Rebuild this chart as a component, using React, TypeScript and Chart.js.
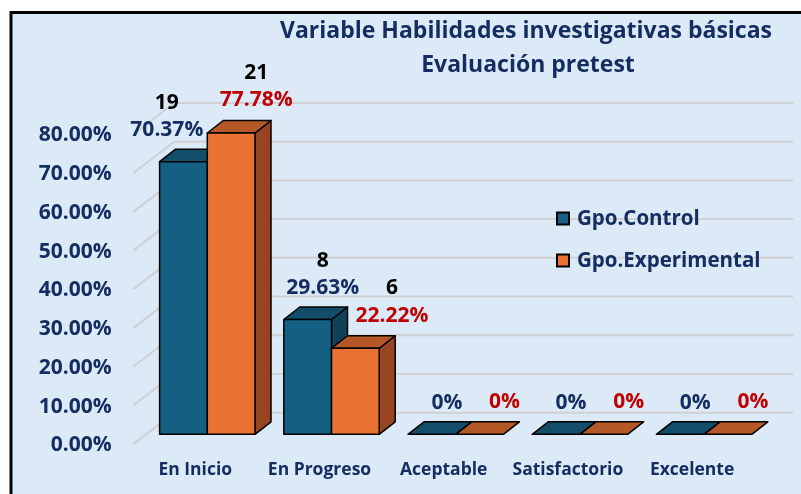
import React, { useEffect, useRef } from 'react';
import { Chart, registerables } from 'chart.js';

Chart.register(...registerables);

// ---------- data ----------
const titleLines = ['Variable Habilidades investigativas básicas', 'Evaluación pretest'];
const categories = ['En Inicio', 'En Progreso', 'Aceptable', 'Satisfactorio', 'Excelente'];
const seriesNames = ['Gpo.Control', 'Gpo.Experimental'];
const controlPct = [70.37, 29.63, 0, 0, 0];
const experimentalPct = [77.78, 22.22, 0, 0, 0];
const controlCount = [19, 8, 0, 0, 0];
const experimentalCount = [21, 6, 0, 0, 0];
const yTicks = [0, 10, 20, 30, 40, 50, 60, 70, 80];

// ---------- style ----------
const FONT = '"Open Sans", Roboto, "DejaVu Sans", sans-serif';
const NAVY = '#152E62';
const RED = '#C00000';
const BG = '#DCE9F6';
const GRID = '#CFD1D5';
const FACES = [
  { front: '#156082', top: '#124E69', side: '#0F4157' },
  { front: '#E97132', top: '#B45828', side: '#964520' },
];
const LABEL_SHIFT = [15, 25];
const DX = 16;
const DY = -12.5;

const W = 801;
const H = 494;

function poly(ctx: CanvasRenderingContext2D, pts: number[][], fill: string) {
  ctx.beginPath();
  ctx.moveTo(pts[0][0], pts[0][1]);
  for (let i = 1; i < pts.length; i++) ctx.lineTo(pts[i][0], pts[i][1]);
  ctx.closePath();
  ctx.fillStyle = fill;
  ctx.fill();
  ctx.lineWidth = 1.5;
  ctx.strokeStyle = '#000';
  ctx.lineJoin = 'round';
  ctx.stroke();
}

function pctText(v: number) {
  return v === 0 ? '0%' : v.toFixed(2) + '%';
}

const counts = [controlCount, experimentalCount];

const excelPlugin = {
  id: 'excel3d',
  beforeDraw(chart: any) {
    const ctx = chart.ctx as CanvasRenderingContext2D;
    ctx.save();
    ctx.fillStyle = '#fff';
    ctx.fillRect(0, 0, W, H);
    ctx.fillStyle = BG;
    ctx.fillRect(11, 12.5, W, H);
    ctx.strokeStyle = '#000';
    ctx.lineWidth = 3;
    ctx.strokeRect(11, 12.5, W + 20, H + 20);
    ctx.restore();
  },
  beforeDatasetsDraw(chart: any) {
    const ctx = chart.ctx as CanvasRenderingContext2D;
    const area = chart.chartArea;
    const ys = chart.scales.y;
    ctx.save();
    // back wall + side wall gridlines
    ctx.strokeStyle = GRID;
    ctx.lineWidth = 2;
    for (const t of ys.ticks) {
      const yF = ys.getPixelForValue(t.value);
      ctx.beginPath();
      ctx.moveTo(area.left - 12, yF + 10);
      ctx.lineTo(area.left + 29, yF - 21.5);
      ctx.lineTo(area.right + 27, yF - 21.5);
      ctx.stroke();
    }
    // 3D bars
    const metas = chart.data.datasets.map((_: any, d: number) => chart.getDatasetMeta(d));
    const n = chart.data.labels.length;
    for (let i = 0; i < n; i++) {
      metas.forEach((meta: any, d: number) => {
        const el = meta.data[i];
        const left = el.x - el.width / 2;
        const right = el.x + el.width / 2;
        const top = el.y;
        const bottom = el.base;
        const f = FACES[d];
        if (bottom - top > 0.5) {
          poly(ctx, [[right, top], [right + DX, top + DY], [right + DX, bottom + DY], [right, bottom]], f.side);
        }
        poly(ctx, [[left, top], [right, top], [right + DX, top + DY], [left + DX, top + DY]], f.top);
        if (bottom - top > 0.5) {
          poly(ctx, [[left, top], [right, top], [right, bottom], [left, bottom]], f.front);
        }
      });
    }
    ctx.restore();
  },
  afterDraw(chart: any) {
    const ctx = chart.ctx as CanvasRenderingContext2D;
    ctx.save();
    // title
    ctx.fillStyle = NAVY;
    ctx.font = `700 23px ${FONT}`;
    ctx.textAlign = 'center';
    ctx.textBaseline = 'middle';
    ctx.fillText(titleLines[0], 526, 31);
    ctx.fillText(titleLines[1], 528, 65);

    // data labels
    const metas = chart.data.datasets.map((_: any, d: number) => chart.getDatasetMeta(d));
    const n = chart.data.labels.length;
    const pctFont = `700 21px ${FONT}`;
    const cntFont = `700 21px ${FONT}`;
    for (let i = 0; i < n; i++) {
      metas.forEach((meta: any, d: number) => {
        const el = meta.data[i];
        const value = chart.data.datasets[d].data[i] as number;
        const txt = pctText(value);
        ctx.font = pctFont;
        const hw = ctx.measureText(txt).width / 2;
        let cx = el.x + LABEL_SHIFT[d];
        const cy = el.y - (d === 0 ? 31.5 : 32.5);
        const other = metas[1 - d].data[i];
        const oLeft = other.x - other.width / 2;
        const oRight = other.x + other.width / 2;
        const oTop = other.y + DY;
        if (cy + 9 > oTop) {
          if (d === 0 && cx + hw > oLeft) cx = oLeft - 4 - hw;
          if (d === 1 && cx - hw < oRight + DX) cx = oRight + DX + 8 + hw;
        }
        ctx.textAlign = 'center';
        ctx.textBaseline = 'middle';
        ctx.fillStyle = d === 0 ? NAVY : RED;
        ctx.fillText(txt, cx, cy);
        const c = counts[d][i];
        if (c > 0) {
          ctx.font = cntFont;
          ctx.fillStyle = '#000';
          ctx.fillText(String(c), cx, cy - 27.5);
        }
      });
    }

    // legend
    const legendY = [219, 261];
    seriesNames.forEach((name, d) => {
      const y = legendY[d];
      ctx.fillStyle = FACES[d].front;
      ctx.fillRect(557, y - 6.5, 12, 12);
      ctx.strokeStyle = '#000';
      ctx.lineWidth = 2;
      ctx.strokeRect(557, y - 6.5, 12, 12);
      ctx.fillStyle = NAVY;
      ctx.font = `700 20.5px ${FONT}`;
      ctx.textAlign = 'left';
      ctx.textBaseline = 'middle';
      ctx.fillText(name, 577, y);
    });
    ctx.restore();
  },
};

export default function App() {
  const ref = useRef<HTMLCanvasElement | null>(null);
  useEffect(() => {
    if (!ref.current) return;
    const chart = new Chart(ref.current, {
      type: 'bar',
      data: {
        labels: categories,
        datasets: [
          {
            label: seriesNames[0],
            data: controlPct,
            backgroundColor: 'rgba(0,0,0,0)',
            borderWidth: 0,
            categoryPercentage: 0.768,
            barPercentage: 1,
          },
          {
            label: seriesNames[1],
            data: experimentalPct,
            backgroundColor: 'rgba(0,0,0,0)',
            borderWidth: 0,
            categoryPercentage: 0.768,
            barPercentage: 1,
          },
        ],
      },
      options: {
        responsive: false,
        animation: false,
        devicePixelRatio: 1,
        layout: { padding: { left: 0, right: 34.8, top: 124.4, bottom: 0 } },
        plugins: {
          legend: { display: false },
          title: { display: false },
          tooltip: { enabled: false },
        },
        scales: {
          x: {
            grid: { display: false, drawTicks: false },
            border: { display: false },
            ticks: {
              color: NAVY,
              font: { family: FONT, size: 17.5, weight: 'bold' },
              padding: 25,
              labelOffset: -12,
              maxRotation: 0,
              autoSkip: false,
            },
            afterFit: (s: any) => {
              s.height = 59.7;
            },
          },
          y: {
            min: 0,
            max: 80,
            grid: { display: false, drawTicks: false },
            border: { display: false },
            afterBuildTicks: (s: any) => {
              s.ticks = yTicks.map((v) => ({ value: v }));
            },
            ticks: {
              color: NAVY,
              font: { family: FONT, size: 21, weight: 'bold' },
              padding: 33.5,
              labelOffset: 11,
              callback: (v: any) => Number(v).toFixed(2) + '%',
            },
            afterFit: (s: any) => {
              s.width = 145.2;
            },
          },
        },
      },
      plugins: [excelPlugin],
    });
    return () => chart.destroy();
  }, []);
  return (
    <div style={{ position: 'absolute', left: 0, top: 0, width: W, height: H, overflow: 'hidden' }}>
      <canvas ref={ref} width={W} height={H} style={{ display: 'block', width: W, height: H }} />
    </div>
  );
}
